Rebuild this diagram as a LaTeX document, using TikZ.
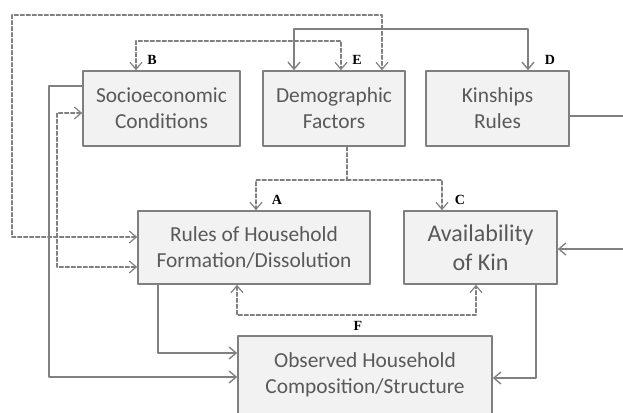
\documentclass[tikz,border=0pt]{standalone}
\usepackage{fontspec}
\setmainfont{Carlito}
\newfontfamily\letterfont{Liberation Serif}
\usepackage{xcolor}
\usepackage{tikz}
\usetikzlibrary{arrows.meta,shadows}
\definecolor{box_fill}{HTML}{F2F2F2}
\definecolor{box_line}{HTML}{7F7F7F}
\definecolor{box_text}{HTML}{595959}
\definecolor{link_gray}{HTML}{808080}

\begin{document}
\begin{tikzpicture}[
                x=0.5pt,
                y=-0.5pt,
                line cap=round,
                line join=round,
                >={Straight Barb[length=3.5pt,width=6pt]},
                factor/.style={draw=box_line, line width=0.8pt, fill=box_fill,
                    text=box_text, align=center, inner sep=0pt,
                    font=\fontsize{10.7}{13}\selectfont,
                    drop shadow={shadow xshift=0.5pt, shadow yshift=-0.5pt, opacity=0.25}},
                solidlink/.style={draw=link_gray, line width=0.7pt},
                dashlink/.style={draw=link_gray, line width=0.6pt, dash pattern=on 2pt off 1pt},
                tag/.style={font=\letterfont\bfseries\fontsize{7}{8}\selectfont}
            ]
            \useasboundingbox (0,0) rectangle (623,413);

            % Draw boxes
            \node[factor, minimum width=78.5pt, minimum height=37.5pt] (soc) at (161.5,108.5) {Socioeconomic\\Conditions};
            \node[factor, minimum width=71pt, minimum height=37.5pt] (dem) at (334,108.5) {Demographic\\Factors};
            \node[factor, minimum width=71.5pt, minimum height=37.5pt] (kin) at (497.5,108.5) {Kinships\\Rules};
            \node[factor, minimum width=116pt, minimum height=36.5pt] (rules) at (254,247.5) {Rules of Household\\Formation/Dissolution};
            \node[factor, minimum width=76.5pt, minimum height=36.5pt,
                  font=\fontsize{12}{14.5}\selectfont] (avail) at (480.5,247.5) {Availability\\of Kin};
            \node[factor, minimum width=127pt, minimum height=39pt] (obs) at (365,375) {Observed Household\\Composition/Structure};

            % Free ends at the right edge
            \coordinate (kinOut) at (623,116);
            \coordinate (availIn) at (623,249);
            \coordinate (split) at (347,180);

            % Dashed links
            \draw[dashlink, <->] (rules.west |- 0,237) -| (12,15) -| (dem.north -| 382,0);
            \draw[dashlink, <->] (soc.north -| 136,0) |- (341,41) -- (dem.north -| 341,0);
            \draw[dashlink, <->] (soc.west |- 0,113) -| (57,267) -- (rules.west |- 0,267);
            \draw[dashlink, ->] (dem.south -| split) -- (split) -| (rules.north -| 256,0);
            \draw[dashlink, ->] (split) -| (avail.north -| 442,0);
            \draw[dashlink, <->] (rules.south -| 237,0) |- (476,315) -- (avail.south -| 476,0);

            % Solid links
            \draw[solidlink, <->] (dem.north -| 294,0) |- (528,29) -- (kin.north -| 528,0);
            \draw[solidlink, ->] (soc.west |- 0,86) -| (49,377) -- (obs.west |- 0,377);
            \draw[solidlink, ->] (rules.south -| 158,0) |- (obs.west |- 0,353);
            \draw[solidlink, ->] (avail.south -| 536,0) |- (obs.east |- 0,378);
            \draw[solidlink] (kin.east |- kinOut) -- (kinOut);
            \draw[solidlink, ->] (availIn) -- (avail.east |- availIn);

            % Letters
            \node[tag] (tagB) at (152,60) {B};
            \node[tag] (tagE) at (357,60) {E};
            \node[tag] (tagD) at (550,60) {D};
            \node[tag] (tagA) at (277,200) {A};
            \node[tag] (tagC) at (460,200) {C};
            \node[tag] (tagF) at (358,326) {F};
        \end{tikzpicture}
\end{document}
